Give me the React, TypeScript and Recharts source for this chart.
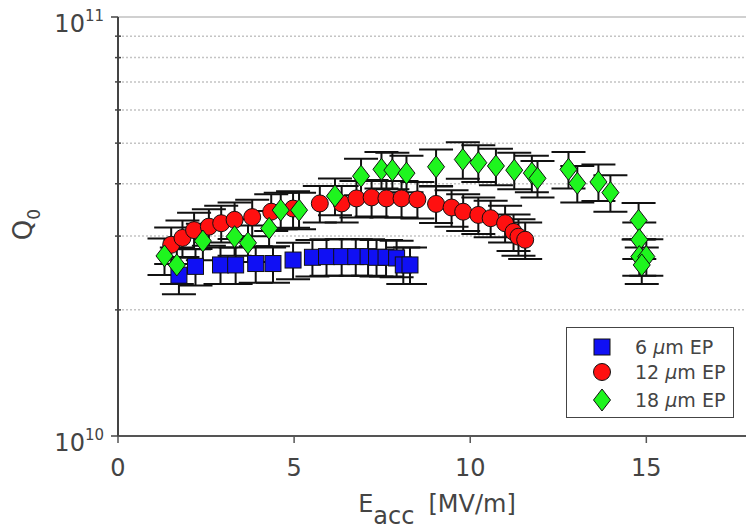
import { ScatterChart, Scatter, XAxis, YAxis, ErrorBar, ReferenceLine, Legend } from 'recharts'

// E_acc [MV/m]
const E_6UM = [1.73, 2.2, 2.91, 3.34, 3.91, 4.4, 4.97, 5.52, 5.92, 6.35, 6.75, 7.1, 7.34, 7.61, 7.91, 8.1, 8.29]
// Q0 in units of 1e10
const Q_6UM = [2.42, 2.54, 2.56, 2.56, 2.58, 2.58, 2.63, 2.67, 2.68, 2.68, 2.68, 2.68, 2.67, 2.67, 2.66, 2.56, 2.56]

const E_12UM = [1.51, 1.83, 2.16, 2.58, 2.93, 3.31, 3.81, 4.35, 4.97, 5.73, 6.35, 6.77, 7.2, 7.62, 8.05, 8.5, 9.03, 9.47, 9.8, 10.23, 10.58, 10.99, 11.23, 11.37, 11.56]
const Q_12UM = [2.86, 2.97, 3.1, 3.16, 3.22, 3.28, 3.33, 3.43, 3.49, 3.59, 3.59, 3.69, 3.71, 3.69, 3.69, 3.67, 3.58, 3.51, 3.43, 3.37, 3.31, 3.22, 3.07, 2.99, 2.94]

const E_18UM = [1.32, 1.67, 2.41, 3.31, 3.69, 4.29, 4.62, 5.14, 6.16, 6.9, 7.48, 7.79, 8.19, 9.03, 9.79, 10.23, 10.73, 11.25, 11.75, 11.91, 12.79, 13.04, 13.64, 13.98, 14.78, 14.8, 14.8, 15.0, 14.87]
const Q_18UM = [2.69, 2.56, 2.92, 2.99, 2.89, 3.13, 3.46, 3.46, 3.74, 4.17, 4.33, 4.31, 4.24, 4.39, 4.57, 4.49, 4.41, 4.31, 4.24, 4.12, 4.33, 4.01, 4.04, 3.81, 3.27, 2.94, 2.68, 2.68, 2.56]

const Q_REL_ERR = 0.1

const X_TICKS = [0, 5, 10, 15]
const Y_TICKS = [1e10, 2e10, 3e10, 4e10, 5e10, 6e10, 7e10, 8e10, 9e10, 1e11]
const GRID_Q = [2e10, 3e10, 4e10, 5e10, 6e10, 7e10, 8e10, 9e10]

const FONT = '"DejaVu Sans", sans-serif'
const INK = '#444'

function toPoints(es: number[], qs: number[]) {
  return es.map((e, i) => ({ x: e, y: qs[i] * 1e10, err: qs[i] * 1e10 * Q_REL_ERR }))
}

const SquareMark = (p: any) => (
  <rect x={p.cx - 8} y={p.cy - 8} width={16} height={16} fill="#1010f4" stroke="#111" strokeWidth={1} />
)
const CircleMark = (p: any) => (
  <circle cx={p.cx} cy={p.cy} r={8.5} fill="#ff1010" stroke="#111" strokeWidth={1} />
)
const DiamondMark = (p: any) => (
  <polygon
    points={`${p.cx},${p.cy - 11} ${p.cx + 8.5},${p.cy} ${p.cx},${p.cy + 11} ${p.cx - 8.5},${p.cy}`}
    fill="#1ef51e"
    stroke="#111"
    strokeWidth={1}
  />
)

const SERIES = [
  { name: '6', data: toPoints(E_6UM, Q_6UM), shape: SquareMark },
  { name: '12', data: toPoints(E_12UM, Q_12UM), shape: CircleMark },
  { name: '18', data: toPoints(E_18UM, Q_18UM), shape: DiamondMark },
]

function YTick(props: any) {
  const { x, y, payload } = props
  const v = payload.value
  const major = v === 1e10 || v === 1e11
  if (!major) {
    return <line x1={x - 3} x2={x + 3} y1={y} y2={y} stroke={INK} strokeWidth={1.5} />
  }
  return (
    <g>
      <line x1={x - 7} x2={x} y1={y} y2={y} stroke={INK} strokeWidth={1.5} />
      <text x={x - 14} y={y + 15} textAnchor="end" fontFamily={FONT} fontSize={24} fill={INK}>
        10
        <tspan dy={-11} fontSize={15}>{v === 1e11 ? '11' : '10'}</tspan>
      </text>
    </g>
  )
}

function YTitle(props: any) {
  const vb = props.viewBox
  const x = vb.x - 26
  const y = vb.y + vb.height / 2 - 2
  return (
    <text transform={`rotate(-90, ${x}, ${y})`} x={x} y={y} textAnchor="middle" fontFamily={FONT} fontSize={26} fill={INK}>
      Q<tspan dy={8} fontSize={17}>0</tspan>
    </text>
  )
}

function XTitle(props: any) {
  const vb = props.viewBox
  const x = vb.x + vb.width / 2 + 2
  return (
    <text x={x} y={512} textAnchor="middle" fontFamily={FONT} fontSize={24} fill={INK}>
      E<tspan dy={12}>acc</tspan>
      <tspan dy={-12} dx={14}>[MV/m]</tspan>
    </text>
  )
}

function LegendBox() {
  const rows = [20, 45, 73]
  return (
    <svg width={168} height={91} style={{ display: 'block' }}>
      <rect x={0.5} y={0.5} width={167} height={90} fill="#fff" stroke={INK} strokeWidth={1} />
      {SERIES.map((s, i) => {
        const Mark = s.shape
        return (
          <g key={s.name}>
            <Mark cx={36} cy={rows[i]} />
            <text x={69} y={rows[i] + 7} fontFamily={FONT} fontSize={19} fill={INK}>
              {s.name} <tspan fontStyle="italic">μ</tspan>m EP
            </text>
          </g>
        )
      })}
    </svg>
  )
}

export default function App() {
  return (
    <div style={{ position: 'fixed', left: 0, top: 0, width: 746, height: 529, overflow: 'hidden', background: '#fff' }}>
      <ScatterChart width={752} height={529} margin={{ top: 17, right: 0, bottom: 0, left: 58 }}>
        <XAxis
          type="number"
          dataKey="x"
          domain={[0, 18]}
          ticks={X_TICKS}
          interval={0}
          height={93}
          allowDataOverflow
          axisLine={{ stroke: '#555', strokeWidth: 2 }}
          tickLine={{ stroke: '#555', strokeWidth: 1.5 }}
          tickSize={7}
          tickMargin={16}
          tick={{ fill: INK, fontSize: 24, fontFamily: FONT }}
          label={{ content: XTitle }}
        />
        <YAxis
          type="number"
          dataKey="y"
          scale="log"
          domain={[1e10, 1e11]}
          ticks={Y_TICKS}
          interval={0}
          width={60}
          allowDataOverflow
          axisLine={{ stroke: INK, strokeWidth: 2 }}
          tickLine={false}
          tickSize={0}
          tickMargin={0}
          tick={(p: any) => <YTick {...p} />}
          label={{ content: YTitle }}
        />
        {GRID_Q.map(q => (
          <ReferenceLine key={q} y={q} stroke="#c4c4c4" strokeWidth={1.5} strokeDasharray="2 2" />
        ))}
        <ReferenceLine y={1e11} stroke="#d0d0d0" strokeWidth={2} />
        <Legend
          layout="vertical"
          align="center"
          verticalAlign="middle"
          wrapperStyle={{ left: 566, top: 327, width: 168, height: 91 }}
          content={() => <LegendBox />}
        />
        {SERIES.map(s => (
          <Scatter key={s.name} name={s.name} data={s.data} shape={s.shape} isAnimationActive={false}>
            <ErrorBar dataKey="err" direction="y" width={17} stroke="#111" strokeWidth={2} isAnimationActive={false} />
          </Scatter>
        ))}
      </ScatterChart>
    </div>
  )
}
